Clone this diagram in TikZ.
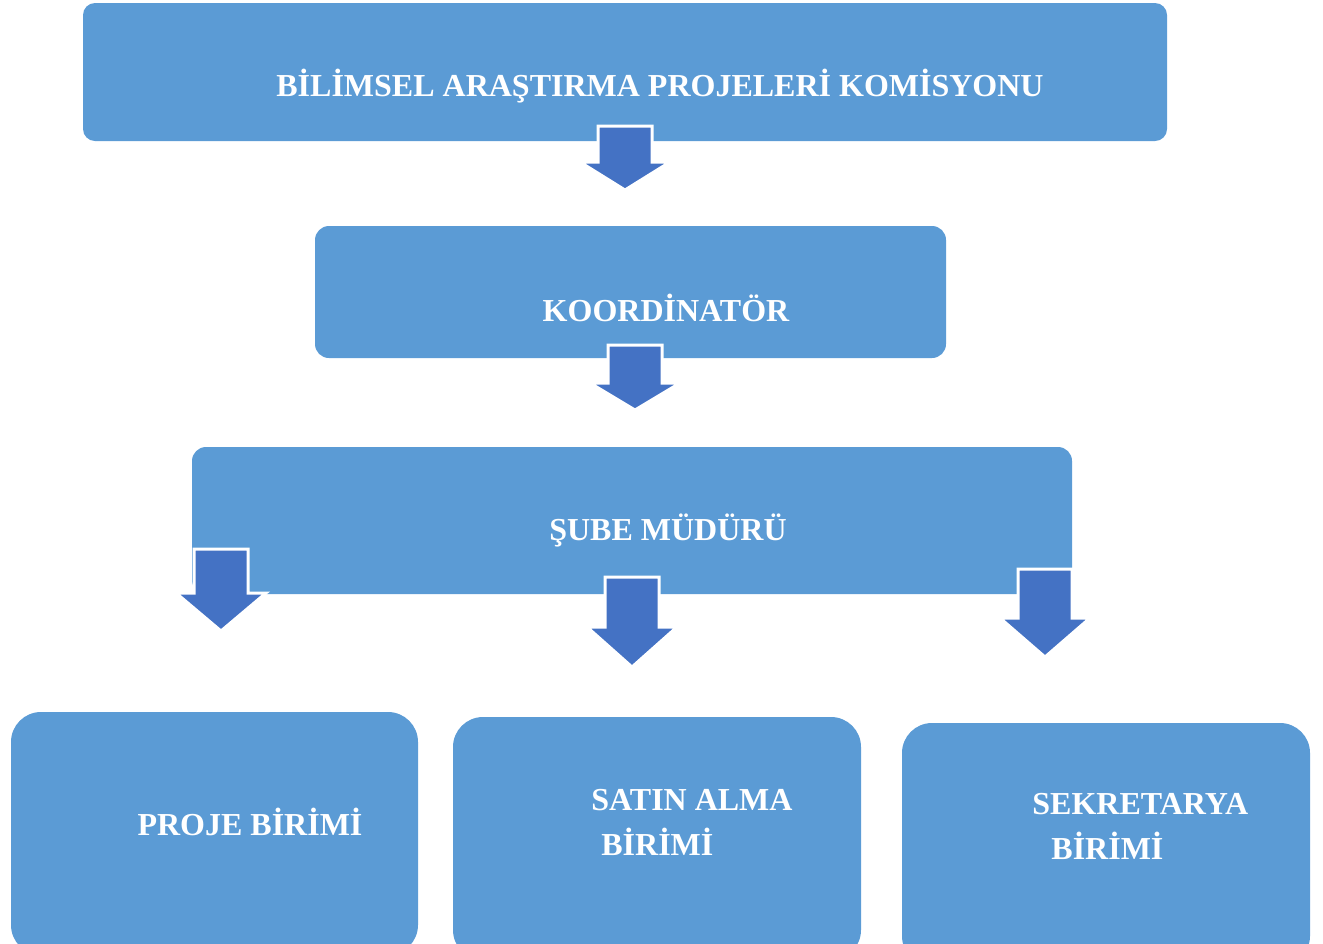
\documentclass[tikz,border=0pt]{standalone}
\usepackage{fontspec}
\setmainfont{Liberation Serif}
\definecolor{kutumavi}{HTML}{5B9BD5}
\definecolor{okmavi}{HTML}{4472C4}
\tikzset{
  kutu/.style={fill=kutumavi, draw=none, inner sep=0pt},
  yazi/.style={text=white, font=\fontsize{16}{22.5}\selectfont\bfseries, inner sep=0pt},
  blokok/.style={fill=okmavi, draw=white, line width=1.5pt, line join=miter}
}
% block arrow: x, shaft top, head base, tip
\newcommand{\asagiok}[4]{%
  \draw[blokok] (#1-27,#2) -- (#1+27,#2) -- (#1+27,#3) -- (#1+45,#3) -- (#1,#4)
    -- (#1-45,#3) -- (#1-27,#3) -- cycle;}
\begin{document}
\begin{tikzpicture}[x={(0.5pt,0)}, y={(0,-0.5pt)}]
                \useasboundingbox (0,0) rectangle (1323,943);
                \clip (0,0) rectangle (1323,943);
                \node[kutu, rounded corners=6pt, minimum width=542pt, minimum height=69pt] (kom) at (625,72) {};
                \node[kutu, rounded corners=7pt, minimum width=315.5pt, minimum height=66pt] (koord) at (630.5,292) {};
                \node[kutu, rounded corners=7pt, minimum width=440pt, minimum height=73.5pt] (sube) at (632,520.5) {};
                \node[kutu, rounded corners=15pt, minimum width=203.5pt, minimum height=121.5pt] (proje) at (214.5,833.5) {};
                \node[kutu, rounded corners=15pt, minimum width=204pt, minimum height=121.5pt] (satin) at (657,838.5) {};
                \node[kutu, rounded corners=15pt, minimum width=204pt, minimum height=121.5pt] (sekr) at (1106,844.5) {};
                \node[yazi] (komyazi) at (660,86) {BİLİMSEL ARAŞTIRMA PROJELERİ KOMİSYONU};
                \node[yazi] (koordyazi) at (666,308) {KOORDİNATÖR};
                \node[yazi] (subeyazi) at (668,530) {ŞUBE MÜDÜRÜ};
                \node[yazi] (projeyazi) at (250,822) {PROJE BİRİMİ};
                \node[yazi, align=left, anchor=west] (satinyazi) at (591,822) {SATIN ALMA\\\hspace*{5pt}BİRİMİ};
                \node[yazi, align=left, anchor=west] (sekryazi) at (1032,826) {SEKRETARYA\\\hspace*{9.5pt}BİRİMİ};
                \asagiok{625}{126}{162}{190}
                \asagiok{635}{345}{383}{410}
                \asagiok{221}{549}{593}{631}
                \asagiok{632}{577}{627}{667}
                \asagiok{1045}{569}{618}{657}
            \end{tikzpicture}
\end{document}
